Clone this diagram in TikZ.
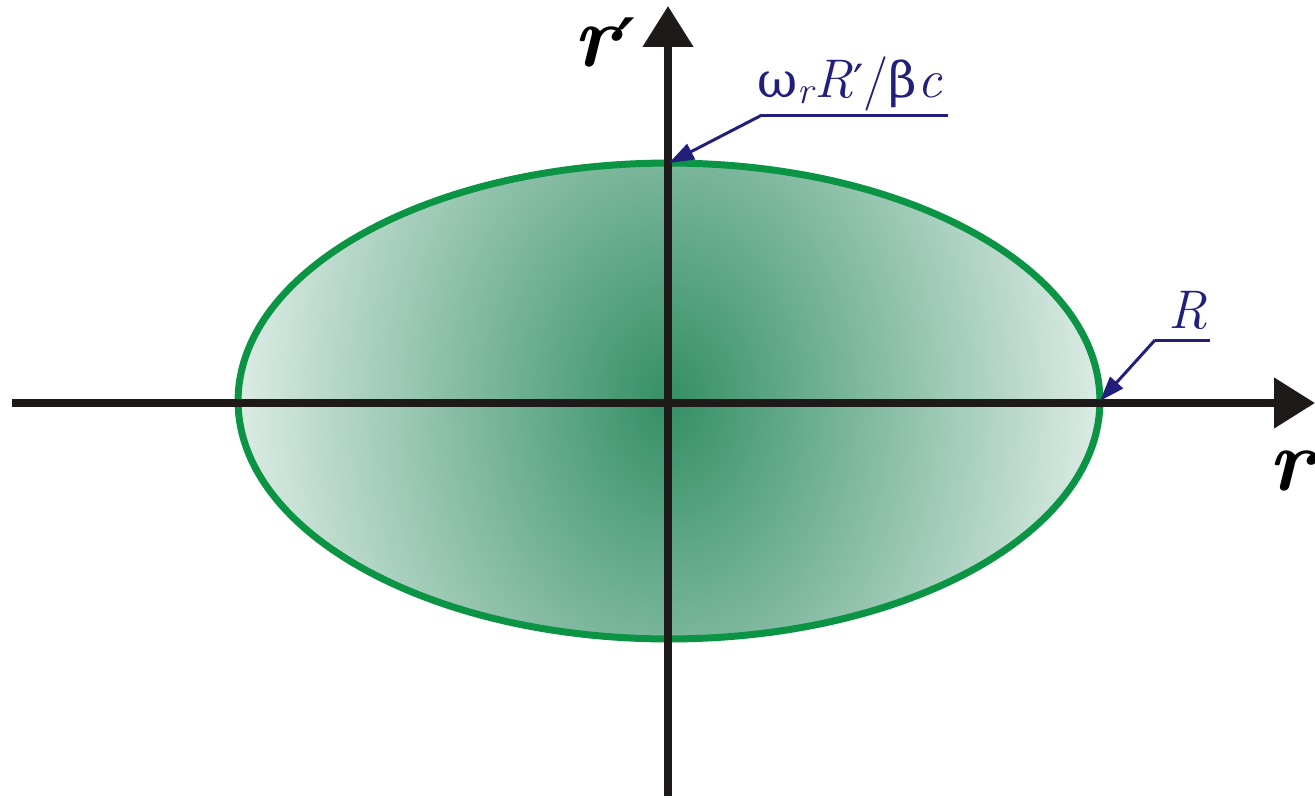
\documentclass[tikz,border=0pt]{standalone}
\usepackage{fontspec}
\newfontfamily\greekfont{DejaVu Serif}
\usetikzlibrary{arrows.meta,shapes.geometric}
\definecolor{ellGreen}{HTML}{0A9444}
\definecolor{fillGreen}{HTML}{348F66}
\definecolor{fadeGreen}{HTML}{F2F8F5}
\definecolor{labelNavy}{HTML}{221E7C}
\definecolor{axisBlack}{HTML}{1E1A1A}

\begin{document}
\begin{tikzpicture}[
  x=0.02cm, y=-0.02cm,
  axis/.style={line width=0.16cm, draw=axisBlack,
    -{Triangle[length=0.82cm, width=0.98cm]}},
  leader/.style={line width=0.06cm, draw=labelNavy,
    -{Triangle[length=0.5cm, width=0.34cm]}},
  axlabel/.style={font=\fontsize{50}{50}\selectfont\bfseries\itshape, inner sep=0pt},
  vallabel/.style={font=\fontsize{31}{31}\selectfont, text=labelNavy, inner sep=0pt}
]
\useasboundingbox (0,0) rectangle (1315,798);

% shaded region
\node[ellipse, draw=ellGreen, line width=0.14cm, inner sep=0pt, outer sep=0pt,
  minimum width=17.24cm, minimum height=9.52cm,
  path picture={\shade[inner color=fillGreen, outer color=fadeGreen]
    (path picture bounding box.center) ellipse [x radius=9.8cm, y radius=13cm];}]
  (ell) at (669,401) {};

% axes
\coordinate (xl) at (12,403);
\coordinate (xr) at (1315,403);
\coordinate (yb) at (668,796);
\coordinate (yt) at (668,6);
\draw[axis] (xl) -- (xr);
\draw[axis] (yb) -- (yt);

\node[axlabel, anchor=base] (rp) at (604,66) {r{\greekfont\fontsize{38}{38}\selectfont ′}};
\node[axlabel, anchor=base east] (r) at (1313,490) {r};

% leaders
\node[vallabel, anchor=base] (wlab) at (850,97)
  {{\greekfont\fontsize{28}{28}\selectfont ω}\textsubscript{\itshape r}\textit{R}{\greekfont\fontsize{26}{26}\selectfont ′}/{\greekfont\fontsize{28}{28}\selectfont β}\textit{c}};
\coordinate (wend) at (948,115);
\coordinate (wknee) at (762,115);
\draw[leader, -] (wend) -- (wknee);
\draw[leader] (wknee) -- (ell.north);

\node[vallabel, anchor=base] (rlab) at (1188,328) {\textit{R}};
\coordinate (rend) at (1210,340);
\coordinate (rknee) at (1155,340);
\draw[leader, -] (rend) -- (rknee);
\draw[leader] (rknee) -- (ell.east);

\end{tikzpicture}
\end{document}
